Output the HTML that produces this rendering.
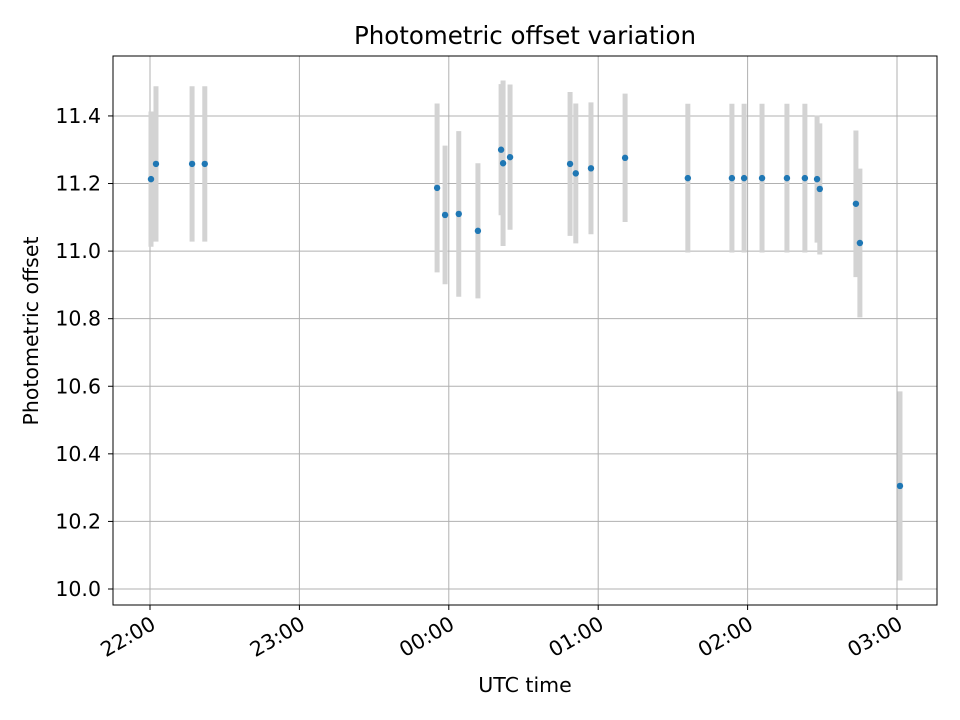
<!DOCTYPE html>
<html><head><meta charset="utf-8"><style>
body{margin:0;background:#fff;}
svg{display:block;font-family:"DejaVu Sans","Liberation Sans",sans-serif;}
</style></head><body>
<svg id="chart" width="960" height="720" viewBox="0 0 960 720">
<rect width="960" height="720" fill="#fff"/>
<text x="525" y="44" font-size="24.5" text-anchor="middle">Photometric offset variation</text>
<g id="grid"></g><g id="bars"></g><g id="pts"></g><g id="axes"></g>
<rect x="113" y="56" width="824" height="549" fill="none" stroke="#000" stroke-width="1"/>
<text x="525" y="692" font-size="20.5" text-anchor="middle">UTC time</text>
<text transform="translate(38,331) rotate(-90)" font-size="20.5" text-anchor="middle">Photometric offset</text>
</svg>
<script>
// minutes after 22:00 UTC
const times=[0.4,2.4,16.9,22,115.3,118.5,124,131.7,141,141.8,144.6,168.7,171,177.1,190.8,216,233.7,238.6,245.8,255.8,263,267.9,269,283.5,285.1,301.2];
const offsets=[11.213,11.258,11.258,11.258,11.187,11.107,11.11,11.06,11.30,11.26,11.278,11.258,11.23,11.245,11.276,11.216,11.216,11.216,11.216,11.216,11.216,11.213,11.184,11.14,11.024,10.305];
const errors=[0.2,0.23,0.23,0.23,0.25,0.205,0.245,0.2,0.194,0.245,0.215,0.213,0.207,0.195,0.19,0.22,0.22,0.22,0.22,0.22,0.22,0.188,0.194,0.217,0.22,0.28];
const xTickLabels=["22:00","23:00","00:00","01:00","02:00","03:00"];
const yTicks=[10.0,10.2,10.4,10.6,10.8,11.0,11.2,11.4];
const NS="http://www.w3.org/2000/svg";
const xs=m=>150+m*149.4/60;
const ys=v=>589-(v-10)*337.9;
function mk(tag,attrs,parent){const e=document.createElementNS(NS,tag);for(const k in attrs)e.setAttribute(k,attrs[k]);document.getElementById(parent).appendChild(e);return e;}
xTickLabels.forEach((lab,i)=>{
 const x=xs(i*60);
 const g=mk('line',{x1:x,x2:x,y1:56,y2:605,stroke:'#b0b0b0','stroke-width':1},'grid');
 
 
 const t=mk('line',{x1:x,x2:x,y1:605,y2:610,stroke:'#000'},'axes');
 
 
 const tx=mk('text',{transform:`translate(${x+7},${628}) rotate(-30)`,'font-size':20.5,'text-anchor':'end'},'axes');
 tx.textContent=lab;
 
 
});
yTicks.forEach(v=>{
 const y=ys(v);
 const g=mk('line',{x1:113,x2:937,y1:y,y2:y,stroke:'#b0b0b0','stroke-width':1},'grid');
 
 
 const t=mk('line',{x1:108,x2:113,y1:y,y2:y,stroke:'#000'},'axes');
 
 
 const tx=mk('text',{x:101,y:y+7,'font-size':20.5,'text-anchor':'end'},'axes');
 tx.textContent=v.toFixed(1);
 
 
});
times.forEach((m,i)=>{
 const x=xs(m);
 const b=mk('line',{x1:x,x2:x,y1:ys(offsets[i]+errors[i]),y2:ys(offsets[i]-errors[i]),stroke:'#d3d3d3','stroke-width':5},'bars');
 
 
 const p=mk('circle',{cx:x,cy:ys(offsets[i]),r:3.2,fill:'#1f77b4'},'pts');
 
 
});
</script>
</body></html>
